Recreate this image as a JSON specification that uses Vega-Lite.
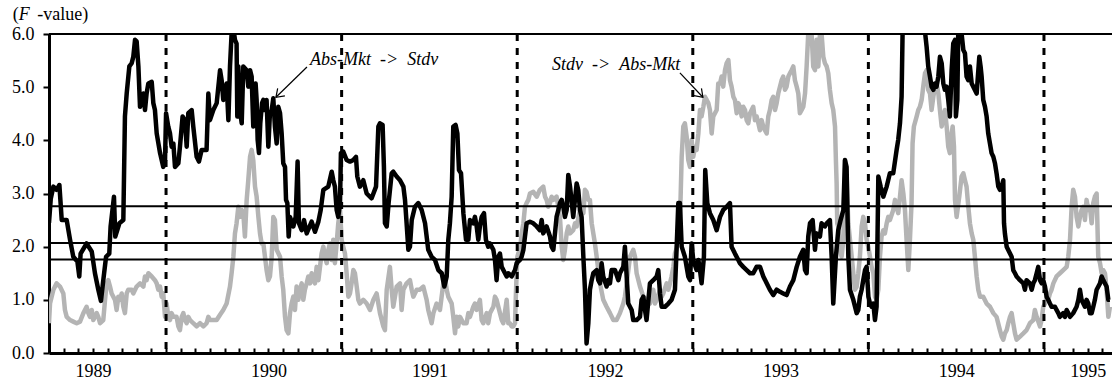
{
"$schema":"https://vega.github.io/schema/vega-lite/v6.json",
"width":1063,"height":319,
"autosize":{"type":"none"},
"padding":{"left":49,"top":34,"right":0,"bottom":28},
"background":"white",
"config":{"view":{"stroke":null},"font":"Liberation Serif"},
"datasets":{
"black":[{"m":4.0,"v":2.45},{"m":4.12,"v":2.9},{"m":4.3,"v":3.13},{"m":4.52,"v":3.07},{"m":4.71,"v":3.16},{"m":4.87,"v":2.5},{"m":5.21,"v":2.5},{"m":5.44,"v":2.13},{"m":5.66,"v":1.81},{"m":5.94,"v":1.72},{"m":6.07,"v":1.44},{"m":6.16,"v":1.87},{"m":6.57,"v":2.06},{"m":6.92,"v":1.91},{"m":7.14,"v":1.5},{"m":7.37,"v":1.19},{"m":7.55,"v":0.98},{"m":7.71,"v":1.37},{"m":7.9,"v":1.81},{"m":8.12,"v":1.87},{"m":8.21,"v":2.38},{"m":8.44,"v":2.94},{"m":8.53,"v":2.19},{"m":8.81,"v":2.44},{"m":9.08,"v":2.5},{"m":9.19,"v":4.45},{"m":9.31,"v":4.88},{"m":9.49,"v":5.39},{"m":9.65,"v":5.45},{"m":9.76,"v":5.57},{"m":9.88,"v":5.89},{"m":9.99,"v":5.86},{"m":10.11,"v":5.39},{"m":10.22,"v":4.63},{"m":10.45,"v":4.88},{"m":10.56,"v":4.57},{"m":10.67,"v":4.88},{"m":10.79,"v":5.07},{"m":11.02,"v":5.1},{"m":11.13,"v":4.7},{"m":11.24,"v":4.57},{"m":11.36,"v":4.13},{"m":11.59,"v":3.76},{"m":11.81,"v":3.5},{"m":11.93,"v":3.63},{"m":12.0,"v":4.51},{"m":12.15,"v":4.26},{"m":12.27,"v":4.13},{"m":12.38,"v":3.88},{"m":12.5,"v":3.94},{"m":12.61,"v":3.5},{"m":12.84,"v":3.57},{"m":12.95,"v":3.88},{"m":13.13,"v":4.45},{"m":13.29,"v":4.38},{"m":13.41,"v":3.88},{"m":13.52,"v":4.51},{"m":13.75,"v":4.57},{"m":13.86,"v":4.26},{"m":14.09,"v":3.69},{"m":14.25,"v":3.6},{"m":14.43,"v":3.82},{"m":14.77,"v":3.82},{"m":14.89,"v":4.88},{"m":15.0,"v":4.38},{"m":15.23,"v":4.57},{"m":15.46,"v":4.7},{"m":15.69,"v":5.32},{"m":15.8,"v":5.13},{"m":15.91,"v":4.76},{"m":16.14,"v":5.07},{"m":16.26,"v":4.38},{"m":16.37,"v":5.39},{"m":16.48,"v":6.01},{"m":16.6,"v":6.11},{"m":16.71,"v":5.89},{"m":16.82,"v":5.82},{"m":16.87,"v":4.45},{"m":16.94,"v":5.39},{"m":17.05,"v":4.57},{"m":17.17,"v":4.32},{"m":17.28,"v":5.39},{"m":17.51,"v":5.32},{"m":17.62,"v":5.01},{"m":17.74,"v":5.32},{"m":17.85,"v":5.2},{"m":17.96,"v":4.26},{"m":18.12,"v":5.07},{"m":18.19,"v":4.76},{"m":18.26,"v":4.01},{"m":18.35,"v":3.76},{"m":18.44,"v":4.32},{"m":18.56,"v":4.7},{"m":18.65,"v":4.76},{"m":18.76,"v":4.57},{"m":18.87,"v":4.76},{"m":18.99,"v":3.88},{"m":19.1,"v":4.51},{"m":19.22,"v":4.57},{"m":19.33,"v":4.79},{"m":19.44,"v":4.26},{"m":19.56,"v":3.94},{"m":19.67,"v":4.63},{"m":19.79,"v":4.51},{"m":19.9,"v":4.13},{"m":20.01,"v":3.57},{"m":20.13,"v":3.5},{"m":20.2,"v":2.88},{"m":20.29,"v":2.82},{"m":20.38,"v":2.19},{"m":20.47,"v":2.56},{"m":20.7,"v":2.38},{"m":20.86,"v":2.56},{"m":20.99,"v":3.6},{"m":21.08,"v":2.44},{"m":21.27,"v":2.31},{"m":21.43,"v":2.5},{"m":21.61,"v":2.25},{"m":21.95,"v":2.47},{"m":22.18,"v":2.28},{"m":22.41,"v":2.47},{"m":22.57,"v":2.69},{"m":22.75,"v":3.07},{"m":23.09,"v":3.13},{"m":23.32,"v":3.41},{"m":23.43,"v":3.25},{"m":23.54,"v":3.13},{"m":23.66,"v":2.69},{"m":23.77,"v":2.56},{"m":23.89,"v":2.82},{"m":23.95,"v":3.76},{"m":24.11,"v":3.79},{"m":24.34,"v":3.63},{"m":24.57,"v":3.6},{"m":24.8,"v":3.63},{"m":24.98,"v":3.69},{"m":25.07,"v":3.32},{"m":25.25,"v":3.13},{"m":25.48,"v":3.25},{"m":25.71,"v":3.0},{"m":26.05,"v":2.91},{"m":26.35,"v":3.13},{"m":26.51,"v":4.26},{"m":26.62,"v":4.32},{"m":26.8,"v":4.29},{"m":26.89,"v":3.5},{"m":26.96,"v":2.44},{"m":27.08,"v":2.38},{"m":27.21,"v":2.82},{"m":27.42,"v":3.38},{"m":27.53,"v":3.41},{"m":27.76,"v":3.32},{"m":27.99,"v":3.25},{"m":28.22,"v":3.13},{"m":28.33,"v":2.88},{"m":28.44,"v":2.44},{"m":28.56,"v":1.94},{"m":28.67,"v":2.0},{"m":28.79,"v":2.5},{"m":29.01,"v":2.75},{"m":29.24,"v":2.82},{"m":29.47,"v":2.69},{"m":29.7,"v":2.44},{"m":29.92,"v":1.94},{"m":30.15,"v":1.81},{"m":30.38,"v":1.75},{"m":30.61,"v":1.56},{"m":30.84,"v":1.5},{"m":31.02,"v":1.25},{"m":31.18,"v":1.44},{"m":31.29,"v":2.13},{"m":31.4,"v":2.44},{"m":31.52,"v":2.94},{"m":31.63,"v":4.26},{"m":31.79,"v":4.29},{"m":31.91,"v":4.13},{"m":32.02,"v":3.44},{"m":32.16,"v":3.38},{"m":32.32,"v":2.63},{"m":32.5,"v":2.13},{"m":32.66,"v":2.13},{"m":32.77,"v":2.5},{"m":33.0,"v":2.44},{"m":33.11,"v":2.56},{"m":33.23,"v":2.38},{"m":33.34,"v":2.13},{"m":33.45,"v":2.38},{"m":33.57,"v":2.56},{"m":33.73,"v":2.63},{"m":33.86,"v":2.13},{"m":34.02,"v":2.0},{"m":34.14,"v":2.06},{"m":34.37,"v":1.94},{"m":34.48,"v":1.75},{"m":34.59,"v":1.37},{"m":34.71,"v":1.81},{"m":34.82,"v":1.87},{"m":34.94,"v":1.62},{"m":35.05,"v":1.56},{"m":35.28,"v":1.44},{"m":35.39,"v":1.5},{"m":35.62,"v":1.44},{"m":35.85,"v":1.56},{"m":35.96,"v":1.69},{"m":36.19,"v":1.75},{"m":36.3,"v":1.81},{"m":36.42,"v":1.94},{"m":36.64,"v":2.44},{"m":36.87,"v":2.47},{"m":37.1,"v":2.44},{"m":37.33,"v":2.38},{"m":37.55,"v":2.31},{"m":37.67,"v":2.5},{"m":37.78,"v":2.25},{"m":38.01,"v":2.38},{"m":38.24,"v":2.19},{"m":38.35,"v":2.0},{"m":38.47,"v":1.94},{"m":38.58,"v":2.25},{"m":38.69,"v":2.56},{"m":38.81,"v":2.69},{"m":38.92,"v":2.82},{"m":39.04,"v":2.88},{"m":39.15,"v":2.75},{"m":39.26,"v":2.56},{"m":39.38,"v":2.69},{"m":39.49,"v":3.35},{"m":39.61,"v":3.13},{"m":39.83,"v":2.56},{"m":40.06,"v":3.19},{"m":40.17,"v":3.07},{"m":40.29,"v":2.69},{"m":40.4,"v":2.56},{"m":40.52,"v":1.81},{"m":40.63,"v":1.19},{"m":40.74,"v":0.18},{"m":40.86,"v":0.56},{"m":40.97,"v":1.19},{"m":41.09,"v":1.37},{"m":41.2,"v":1.5},{"m":41.43,"v":1.56},{"m":41.54,"v":1.37},{"m":41.66,"v":1.31},{"m":41.77,"v":1.69},{"m":41.88,"v":1.44},{"m":42.11,"v":1.25},{"m":42.22,"v":1.37},{"m":42.34,"v":1.31},{"m":42.45,"v":1.56},{"m":42.68,"v":1.56},{"m":42.91,"v":1.37},{"m":43.02,"v":1.5},{"m":43.25,"v":1.62},{"m":43.36,"v":2.0},{"m":43.48,"v":1.44},{"m":43.59,"v":0.93},{"m":43.82,"v":0.81},{"m":43.93,"v":0.62},{"m":44.16,"v":0.62},{"m":44.39,"v":0.68},{"m":44.5,"v":1.0},{"m":44.62,"v":1.06},{"m":44.73,"v":0.81},{"m":44.84,"v":0.62},{"m":45.07,"v":1.31},{"m":45.3,"v":1.37},{"m":45.53,"v":1.44},{"m":45.64,"v":1.56},{"m":45.76,"v":1.12},{"m":45.87,"v":0.87},{"m":46.1,"v":0.87},{"m":46.33,"v":0.93},{"m":46.55,"v":1.0},{"m":46.78,"v":1.19},{"m":46.89,"v":1.94},{"m":47.01,"v":2.82},{"m":47.12,"v":2.82},{"m":47.24,"v":2.0},{"m":47.46,"v":1.81},{"m":47.69,"v":1.44},{"m":47.81,"v":1.37},{"m":47.92,"v":2.06},{"m":48.03,"v":1.75},{"m":48.26,"v":1.56},{"m":48.38,"v":1.75},{"m":48.49,"v":1.56},{"m":48.6,"v":1.31},{"m":48.76,"v":1.81},{"m":48.85,"v":3.44},{"m":48.99,"v":2.82},{"m":49.17,"v":2.63},{"m":49.4,"v":2.5},{"m":49.63,"v":2.31},{"m":49.86,"v":2.56},{"m":50.08,"v":2.69},{"m":50.31,"v":2.75},{"m":50.54,"v":2.82},{"m":50.65,"v":2.0},{"m":50.88,"v":1.87},{"m":51.11,"v":1.75},{"m":51.22,"v":1.69},{"m":51.45,"v":1.62},{"m":51.68,"v":1.56},{"m":51.91,"v":1.5},{"m":52.13,"v":1.5},{"m":52.36,"v":1.62},{"m":52.59,"v":1.62},{"m":52.82,"v":1.44},{"m":53.05,"v":1.31},{"m":53.27,"v":1.19},{"m":53.5,"v":1.09},{"m":53.73,"v":1.19},{"m":53.96,"v":1.15},{"m":54.18,"v":1.12},{"m":54.41,"v":1.09},{"m":54.64,"v":1.25},{"m":54.87,"v":1.37},{"m":55.1,"v":1.62},{"m":55.32,"v":1.81},{"m":55.55,"v":1.94},{"m":55.67,"v":1.56},{"m":55.78,"v":1.5},{"m":55.89,"v":2.19},{"m":56.01,"v":2.44},{"m":56.19,"v":2.5},{"m":56.35,"v":1.94},{"m":56.46,"v":2.25},{"m":56.69,"v":2.19},{"m":56.8,"v":2.44},{"m":57.03,"v":2.38},{"m":57.15,"v":2.44},{"m":57.37,"v":2.5},{"m":57.49,"v":1.81},{"m":57.6,"v":0.93},{"m":57.78,"v":1.81},{"m":57.94,"v":2.31},{"m":58.1,"v":2.5},{"m":58.29,"v":2.69},{"m":58.4,"v":3.63},{"m":58.51,"v":3.5},{"m":58.63,"v":1.81},{"m":58.74,"v":1.19},{"m":58.97,"v":1.0},{"m":59.2,"v":0.75},{"m":59.31,"v":0.81},{"m":59.42,"v":1.06},{"m":59.54,"v":1.19},{"m":59.65,"v":1.37},{"m":59.77,"v":1.56},{"m":59.88,"v":1.62},{"m":60.0,"v":1.06},{"m":60.11,"v":0.93},{"m":60.22,"v":0.87},{"m":60.34,"v":0.93},{"m":60.45,"v":0.62},{"m":60.56,"v":0.87},{"m":60.68,"v":3.32},{"m":60.84,"v":3.13},{"m":61.02,"v":2.94},{"m":61.25,"v":3.13},{"m":61.47,"v":3.38},{"m":61.7,"v":3.38},{"m":61.93,"v":3.82},{"m":62.04,"v":4.01},{"m":62.16,"v":4.32},{"m":62.27,"v":4.82},{"m":62.34,"v":6.07},{"m":62.61,"v":7.0},{"m":63.3,"v":7.5},{"m":63.75,"v":6.8},{"m":63.87,"v":6.04},{"m":63.98,"v":5.76},{"m":64.09,"v":5.39},{"m":64.21,"v":5.2},{"m":64.32,"v":5.01},{"m":64.44,"v":4.95},{"m":64.55,"v":5.07},{"m":64.66,"v":5.01},{"m":64.78,"v":5.2},{"m":64.89,"v":5.57},{"m":65.01,"v":5.45},{"m":65.12,"v":5.07},{"m":65.23,"v":4.95},{"m":65.35,"v":5.01},{"m":65.46,"v":4.76},{"m":65.57,"v":4.45},{"m":65.69,"v":5.32},{"m":65.8,"v":5.82},{"m":65.92,"v":5.89},{"m":65.98,"v":4.45},{"m":66.08,"v":4.76},{"m":66.14,"v":6.01},{"m":66.26,"v":6.11},{"m":66.37,"v":6.01},{"m":66.49,"v":5.7},{"m":66.6,"v":5.64},{"m":66.71,"v":5.2},{"m":66.83,"v":5.13},{"m":66.94,"v":5.39},{"m":67.06,"v":5.07},{"m":67.17,"v":5.01},{"m":67.4,"v":4.88},{"m":67.58,"v":5.57},{"m":67.67,"v":5.39},{"m":67.74,"v":5.2},{"m":67.85,"v":4.76},{"m":67.97,"v":4.63},{"m":68.08,"v":4.45},{"m":68.19,"v":4.13},{"m":68.31,"v":3.94},{"m":68.42,"v":3.76},{"m":68.54,"v":3.69},{"m":68.65,"v":3.57},{"m":68.76,"v":3.38},{"m":68.88,"v":3.13},{"m":68.99,"v":3.07},{"m":69.11,"v":3.13},{"m":69.22,"v":3.25},{"m":69.27,"v":2.44},{"m":69.33,"v":2.25},{"m":69.45,"v":2.0},{"m":69.68,"v":1.87},{"m":69.79,"v":1.81},{"m":69.9,"v":1.56},{"m":70.02,"v":1.5},{"m":70.13,"v":1.44},{"m":70.36,"v":1.37},{"m":70.59,"v":1.31},{"m":70.7,"v":1.19},{"m":70.81,"v":1.37},{"m":71.04,"v":1.31},{"m":71.16,"v":1.19},{"m":71.27,"v":1.31},{"m":71.38,"v":1.37},{"m":71.5,"v":1.5},{"m":71.61,"v":1.62},{"m":71.73,"v":1.37},{"m":71.84,"v":1.31},{"m":71.95,"v":1.37},{"m":72.07,"v":1.25},{"m":72.18,"v":1.06},{"m":72.29,"v":1.0},{"m":72.41,"v":0.93},{"m":72.52,"v":0.87},{"m":72.75,"v":0.87},{"m":72.86,"v":0.81},{"m":72.98,"v":0.75},{"m":73.09,"v":0.68},{"m":73.32,"v":0.75},{"m":73.43,"v":0.68},{"m":73.55,"v":0.81},{"m":73.66,"v":0.75},{"m":73.78,"v":0.68},{"m":74.0,"v":0.75},{"m":74.23,"v":0.87},{"m":74.35,"v":1.0},{"m":74.46,"v":1.19},{"m":74.57,"v":1.0},{"m":74.69,"v":0.93},{"m":74.8,"v":0.87},{"m":74.91,"v":1.0},{"m":75.03,"v":0.93},{"m":75.14,"v":0.75},{"m":75.26,"v":0.75},{"m":75.37,"v":0.87},{"m":75.48,"v":1.0},{"m":75.6,"v":1.19},{"m":75.83,"v":1.31},{"m":75.94,"v":1.44},{"m":76.05,"v":1.37},{"m":76.28,"v":1.25},{"m":76.4,"v":1.0},{"m":76.51,"v":1.0}],
"gray":[{"m":4.0,"v":0.56},{"m":4.07,"v":0.93},{"m":4.3,"v":1.19},{"m":4.52,"v":1.31},{"m":4.75,"v":1.25},{"m":4.98,"v":1.12},{"m":5.09,"v":0.81},{"m":5.21,"v":0.68},{"m":5.44,"v":0.62},{"m":5.66,"v":0.59},{"m":5.89,"v":0.56},{"m":6.12,"v":0.59},{"m":6.35,"v":0.75},{"m":6.57,"v":0.87},{"m":6.69,"v":0.75},{"m":6.8,"v":0.68},{"m":6.92,"v":0.81},{"m":7.03,"v":0.62},{"m":7.26,"v":0.75},{"m":7.37,"v":0.68},{"m":7.49,"v":0.56},{"m":7.71,"v":0.62},{"m":7.83,"v":1.0},{"m":7.94,"v":1.31},{"m":8.05,"v":1.37},{"m":8.17,"v":1.25},{"m":8.28,"v":1.12},{"m":8.51,"v":1.0},{"m":8.62,"v":0.81},{"m":8.74,"v":1.06},{"m":8.85,"v":1.0},{"m":8.97,"v":1.12},{"m":9.08,"v":0.87},{"m":9.19,"v":0.75},{"m":9.31,"v":1.12},{"m":9.42,"v":1.19},{"m":9.65,"v":1.19},{"m":9.76,"v":1.12},{"m":9.99,"v":1.25},{"m":10.22,"v":1.31},{"m":10.45,"v":1.25},{"m":10.56,"v":1.44},{"m":10.67,"v":1.37},{"m":10.79,"v":1.5},{"m":11.02,"v":1.44},{"m":11.24,"v":1.37},{"m":11.36,"v":1.31},{"m":11.47,"v":1.19},{"m":11.59,"v":1.25},{"m":11.7,"v":1.06},{"m":11.81,"v":1.12},{"m":11.93,"v":0.68},{"m":12.04,"v":0.93},{"m":12.15,"v":0.68},{"m":12.27,"v":0.62},{"m":12.38,"v":0.75},{"m":12.5,"v":0.68},{"m":12.72,"v":0.68},{"m":12.84,"v":0.5},{"m":12.95,"v":0.43},{"m":13.07,"v":0.68},{"m":13.18,"v":0.75},{"m":13.29,"v":0.62},{"m":13.41,"v":0.56},{"m":13.52,"v":0.68},{"m":13.64,"v":0.62},{"m":13.86,"v":0.56},{"m":14.09,"v":0.5},{"m":14.32,"v":0.56},{"m":14.55,"v":0.5},{"m":14.77,"v":0.56},{"m":14.89,"v":0.68},{"m":15.0,"v":0.62},{"m":15.23,"v":0.62},{"m":15.46,"v":0.62},{"m":15.69,"v":0.72},{"m":15.91,"v":0.81},{"m":16.14,"v":0.93},{"m":16.37,"v":1.25},{"m":16.48,"v":1.5},{"m":16.6,"v":1.81},{"m":16.71,"v":2.25},{"m":16.82,"v":2.44},{"m":16.94,"v":2.75},{"m":17.05,"v":2.56},{"m":17.17,"v":2.69},{"m":17.28,"v":2.63},{"m":17.39,"v":2.19},{"m":17.51,"v":2.88},{"m":17.62,"v":3.25},{"m":17.74,"v":3.69},{"m":17.85,"v":3.82},{"m":17.96,"v":3.63},{"m":18.08,"v":3.13},{"m":18.19,"v":2.94},{"m":18.31,"v":2.56},{"m":18.42,"v":2.25},{"m":18.53,"v":2.06},{"m":18.65,"v":2.06},{"m":18.76,"v":1.81},{"m":18.87,"v":1.56},{"m":18.99,"v":1.37},{"m":19.1,"v":1.44},{"m":19.22,"v":1.81},{"m":19.33,"v":2.56},{"m":19.44,"v":2.5},{"m":19.56,"v":1.94},{"m":19.79,"v":1.81},{"m":19.9,"v":1.44},{"m":20.01,"v":1.19},{"m":20.13,"v":0.68},{"m":20.24,"v":0.43},{"m":20.36,"v":0.37},{"m":20.47,"v":0.75},{"m":20.58,"v":0.93},{"m":20.7,"v":1.06},{"m":20.81,"v":0.81},{"m":20.92,"v":1.25},{"m":21.04,"v":1.0},{"m":21.15,"v":1.19},{"m":21.27,"v":1.31},{"m":21.38,"v":1.0},{"m":21.49,"v":1.19},{"m":21.61,"v":1.31},{"m":21.72,"v":1.44},{"m":21.84,"v":1.31},{"m":21.95,"v":1.5},{"m":22.06,"v":1.37},{"m":22.18,"v":1.31},{"m":22.29,"v":1.62},{"m":22.41,"v":1.37},{"m":22.52,"v":1.62},{"m":22.63,"v":1.87},{"m":22.75,"v":2.0},{"m":22.86,"v":1.81},{"m":22.98,"v":1.69},{"m":23.09,"v":1.94},{"m":23.2,"v":2.06},{"m":23.32,"v":1.75},{"m":23.43,"v":2.13},{"m":23.54,"v":1.69},{"m":23.66,"v":2.06},{"m":23.77,"v":2.44},{"m":23.89,"v":2.69},{"m":24.0,"v":2.13},{"m":24.11,"v":2.0},{"m":24.23,"v":1.87},{"m":24.34,"v":1.5},{"m":24.46,"v":1.06},{"m":24.57,"v":1.12},{"m":24.68,"v":1.31},{"m":24.8,"v":1.56},{"m":24.91,"v":1.5},{"m":25.03,"v":1.25},{"m":25.14,"v":1.0},{"m":25.25,"v":0.93},{"m":25.48,"v":1.0},{"m":25.71,"v":0.93},{"m":25.94,"v":0.81},{"m":26.17,"v":1.0},{"m":26.39,"v":1.12},{"m":26.62,"v":0.75},{"m":26.85,"v":0.5},{"m":26.96,"v":0.43},{"m":27.08,"v":1.19},{"m":27.3,"v":1.62},{"m":27.42,"v":1.19},{"m":27.53,"v":0.87},{"m":27.76,"v":1.25},{"m":27.99,"v":1.31},{"m":28.1,"v":0.81},{"m":28.22,"v":1.19},{"m":28.44,"v":1.31},{"m":28.67,"v":1.37},{"m":28.79,"v":1.19},{"m":28.9,"v":1.06},{"m":29.13,"v":1.19},{"m":29.35,"v":1.19},{"m":29.58,"v":1.25},{"m":29.81,"v":1.0},{"m":29.92,"v":0.81},{"m":30.15,"v":0.56},{"m":30.27,"v":0.75},{"m":30.49,"v":0.93},{"m":30.72,"v":0.81},{"m":30.95,"v":1.31},{"m":31.06,"v":1.44},{"m":31.18,"v":1.19},{"m":31.29,"v":1.06},{"m":31.52,"v":0.93},{"m":31.63,"v":0.68},{"m":31.75,"v":0.37},{"m":31.86,"v":0.68},{"m":31.97,"v":0.5},{"m":32.09,"v":0.68},{"m":32.32,"v":0.56},{"m":32.54,"v":0.56},{"m":32.66,"v":0.75},{"m":32.77,"v":0.68},{"m":33.0,"v":0.87},{"m":33.11,"v":0.93},{"m":33.23,"v":0.81},{"m":33.45,"v":1.0},{"m":33.57,"v":0.62},{"m":33.68,"v":0.56},{"m":33.91,"v":0.75},{"m":34.02,"v":0.56},{"m":34.14,"v":0.75},{"m":34.37,"v":0.87},{"m":34.48,"v":1.06},{"m":34.59,"v":1.0},{"m":34.82,"v":0.75},{"m":34.94,"v":0.62},{"m":35.05,"v":0.56},{"m":35.28,"v":1.0},{"m":35.39,"v":0.56},{"m":35.5,"v":0.56},{"m":35.62,"v":0.5},{"m":35.73,"v":0.5},{"m":35.85,"v":0.56},{"m":35.92,"v":1.19},{"m":36.01,"v":1.81},{"m":36.07,"v":1.87},{"m":36.19,"v":1.94},{"m":36.3,"v":2.25},{"m":36.42,"v":2.44},{"m":36.53,"v":2.75},{"m":36.64,"v":2.82},{"m":36.76,"v":2.88},{"m":36.87,"v":3.0},{"m":37.1,"v":3.03},{"m":37.33,"v":2.94},{"m":37.55,"v":3.07},{"m":37.78,"v":3.13},{"m":37.9,"v":2.94},{"m":38.01,"v":2.88},{"m":38.12,"v":2.75},{"m":38.24,"v":2.82},{"m":38.35,"v":2.94},{"m":38.47,"v":2.88},{"m":38.69,"v":2.94},{"m":38.92,"v":2.56},{"m":39.04,"v":2.0},{"m":39.15,"v":1.75},{"m":39.26,"v":1.94},{"m":39.38,"v":2.25},{"m":39.49,"v":2.38},{"m":39.61,"v":2.25},{"m":39.83,"v":2.31},{"m":39.95,"v":2.44},{"m":40.06,"v":2.38},{"m":40.29,"v":2.69},{"m":40.52,"v":2.63},{"m":40.63,"v":3.07},{"m":40.74,"v":3.03},{"m":40.86,"v":2.88},{"m":40.97,"v":2.88},{"m":41.09,"v":2.44},{"m":41.2,"v":2.25},{"m":41.31,"v":2.06},{"m":41.43,"v":1.81},{"m":41.54,"v":1.56},{"m":41.66,"v":1.31},{"m":41.88,"v":1.0},{"m":42.11,"v":0.87},{"m":42.34,"v":0.75},{"m":42.57,"v":0.62},{"m":42.79,"v":0.62},{"m":43.02,"v":0.75},{"m":43.25,"v":0.93},{"m":43.36,"v":1.06},{"m":43.48,"v":1.31},{"m":43.71,"v":1.81},{"m":43.93,"v":1.94},{"m":44.05,"v":1.81},{"m":44.16,"v":1.5},{"m":44.39,"v":1.25},{"m":44.62,"v":1.06},{"m":44.84,"v":1.0},{"m":45.07,"v":0.93},{"m":45.19,"v":1.12},{"m":45.3,"v":1.19},{"m":45.41,"v":0.93},{"m":45.53,"v":1.0},{"m":45.76,"v":1.19},{"m":45.87,"v":1.06},{"m":45.98,"v":1.12},{"m":46.21,"v":1.31},{"m":46.33,"v":1.19},{"m":46.44,"v":1.31},{"m":46.55,"v":1.44},{"m":46.67,"v":1.62},{"m":46.78,"v":1.87},{"m":46.9,"v":1.97},{"m":47.01,"v":2.13},{"m":47.12,"v":2.44},{"m":47.24,"v":3.69},{"m":47.35,"v":4.26},{"m":47.46,"v":4.32},{"m":47.58,"v":4.07},{"m":47.69,"v":3.63},{"m":47.81,"v":3.5},{"m":47.92,"v":4.01},{"m":48.03,"v":3.69},{"m":48.15,"v":3.88},{"m":48.26,"v":3.82},{"m":48.38,"v":4.13},{"m":48.49,"v":4.57},{"m":48.6,"v":4.45},{"m":48.72,"v":4.63},{"m":48.83,"v":4.82},{"m":48.95,"v":4.76},{"m":49.06,"v":4.7},{"m":49.17,"v":4.57},{"m":49.29,"v":4.13},{"m":49.4,"v":4.45},{"m":49.63,"v":4.57},{"m":49.74,"v":5.07},{"m":49.86,"v":5.07},{"m":49.97,"v":5.2},{"m":50.08,"v":5.01},{"m":50.2,"v":5.32},{"m":50.31,"v":5.45},{"m":50.43,"v":5.51},{"m":50.54,"v":5.13},{"m":50.65,"v":5.01},{"m":50.77,"v":4.82},{"m":50.88,"v":4.76},{"m":51.0,"v":4.51},{"m":51.11,"v":4.7},{"m":51.22,"v":4.63},{"m":51.34,"v":4.45},{"m":51.45,"v":4.63},{"m":51.57,"v":4.57},{"m":51.68,"v":4.38},{"m":51.79,"v":4.32},{"m":51.91,"v":4.51},{"m":52.02,"v":4.57},{"m":52.13,"v":4.63},{"m":52.25,"v":4.38},{"m":52.36,"v":4.45},{"m":52.48,"v":4.32},{"m":52.59,"v":4.19},{"m":52.7,"v":4.38},{"m":52.82,"v":4.26},{"m":52.93,"v":4.19},{"m":53.05,"v":4.13},{"m":53.16,"v":4.45},{"m":53.27,"v":4.57},{"m":53.39,"v":4.76},{"m":53.5,"v":4.82},{"m":53.62,"v":4.57},{"m":53.73,"v":4.7},{"m":53.84,"v":4.88},{"m":53.96,"v":5.01},{"m":54.07,"v":5.13},{"m":54.18,"v":5.2},{"m":54.3,"v":4.95},{"m":54.41,"v":5.01},{"m":54.53,"v":5.2},{"m":54.64,"v":5.26},{"m":54.75,"v":5.32},{"m":54.87,"v":5.39},{"m":54.98,"v":5.13},{"m":55.1,"v":5.01},{"m":55.21,"v":4.88},{"m":55.32,"v":4.51},{"m":55.44,"v":4.57},{"m":55.55,"v":4.63},{"m":55.67,"v":4.88},{"m":55.78,"v":5.39},{"m":55.89,"v":6.01},{"m":56.01,"v":6.04},{"m":56.12,"v":6.01},{"m":56.23,"v":5.39},{"m":56.35,"v":5.32},{"m":56.46,"v":5.89},{"m":56.58,"v":5.39},{"m":56.69,"v":6.01},{"m":56.8,"v":6.01},{"m":56.92,"v":5.57},{"m":57.03,"v":5.45},{"m":57.15,"v":5.39},{"m":57.26,"v":5.26},{"m":57.37,"v":4.95},{"m":57.49,"v":4.7},{"m":57.6,"v":4.57},{"m":57.72,"v":4.26},{"m":57.78,"v":3.63},{"m":57.83,"v":3.19},{"m":57.87,"v":2.44},{"m":57.94,"v":2.38},{"m":58.06,"v":1.94},{"m":58.17,"v":1.81},{"m":58.29,"v":2.13},{"m":58.4,"v":3.63},{"m":58.51,"v":3.32},{"m":58.63,"v":2.44},{"m":58.74,"v":2.13},{"m":58.86,"v":1.81},{"m":58.97,"v":1.5},{"m":59.08,"v":1.19},{"m":59.2,"v":1.25},{"m":59.31,"v":1.5},{"m":59.42,"v":1.81},{"m":59.54,"v":2.38},{"m":59.65,"v":2.56},{"m":59.77,"v":2.44},{"m":59.88,"v":2.13},{"m":59.99,"v":2.0},{"m":60.11,"v":1.81},{"m":60.22,"v":1.62},{"m":60.34,"v":1.5},{"m":60.45,"v":1.06},{"m":60.56,"v":1.0},{"m":60.68,"v":1.19},{"m":60.79,"v":1.81},{"m":60.9,"v":2.19},{"m":61.02,"v":2.31},{"m":61.13,"v":2.25},{"m":61.25,"v":2.44},{"m":61.36,"v":2.56},{"m":61.47,"v":2.5},{"m":61.7,"v":2.69},{"m":61.82,"v":2.88},{"m":61.93,"v":2.75},{"m":62.04,"v":2.63},{"m":62.16,"v":2.94},{"m":62.27,"v":3.25},{"m":62.39,"v":3.0},{"m":62.5,"v":2.69},{"m":62.61,"v":2.13},{"m":62.73,"v":1.56},{"m":62.84,"v":2.13},{"m":62.95,"v":2.82},{"m":63.02,"v":3.94},{"m":63.11,"v":4.26},{"m":63.3,"v":4.45},{"m":63.41,"v":4.57},{"m":63.52,"v":4.63},{"m":63.64,"v":4.76},{"m":63.75,"v":5.01},{"m":63.87,"v":5.26},{"m":63.98,"v":5.32},{"m":64.09,"v":4.95},{"m":64.21,"v":4.88},{"m":64.32,"v":4.57},{"m":64.44,"v":4.82},{"m":64.55,"v":5.01},{"m":64.66,"v":5.07},{"m":64.78,"v":4.88},{"m":64.89,"v":4.57},{"m":65.01,"v":4.26},{"m":65.12,"v":4.45},{"m":65.23,"v":4.57},{"m":65.35,"v":4.26},{"m":65.46,"v":3.88},{"m":65.57,"v":3.76},{"m":65.69,"v":4.13},{"m":65.76,"v":4.26},{"m":65.85,"v":3.88},{"m":65.92,"v":2.88},{"m":66.03,"v":2.56},{"m":66.21,"v":2.94},{"m":66.37,"v":3.32},{"m":66.49,"v":3.38},{"m":66.6,"v":3.25},{"m":66.71,"v":3.13},{"m":66.83,"v":2.75},{"m":66.94,"v":2.44},{"m":67.06,"v":2.25},{"m":67.17,"v":2.13},{"m":67.28,"v":1.81},{"m":67.4,"v":1.44},{"m":67.51,"v":1.19},{"m":67.63,"v":1.06},{"m":67.85,"v":1.06},{"m":68.08,"v":0.93},{"m":68.31,"v":0.87},{"m":68.54,"v":0.75},{"m":68.76,"v":0.68},{"m":68.99,"v":0.43},{"m":69.11,"v":0.31},{"m":69.22,"v":0.25},{"m":69.33,"v":0.37},{"m":69.45,"v":0.43},{"m":69.56,"v":0.56},{"m":69.68,"v":0.68},{"m":69.79,"v":0.75},{"m":69.9,"v":0.56},{"m":70.02,"v":0.37},{"m":70.13,"v":0.25},{"m":70.36,"v":0.31},{"m":70.59,"v":0.37},{"m":70.81,"v":0.43},{"m":71.04,"v":0.56},{"m":71.27,"v":0.62},{"m":71.38,"v":0.81},{"m":71.5,"v":0.68},{"m":71.73,"v":0.5},{"m":71.84,"v":0.62},{"m":71.95,"v":0.87},{"m":72.07,"v":0.93},{"m":72.18,"v":1.06},{"m":72.29,"v":1.0},{"m":72.41,"v":1.12},{"m":72.52,"v":1.19},{"m":72.64,"v":1.31},{"m":72.86,"v":1.44},{"m":73.09,"v":1.5},{"m":73.32,"v":1.56},{"m":73.55,"v":1.62},{"m":73.66,"v":1.81},{"m":73.78,"v":2.13},{"m":73.89,"v":2.75},{"m":74.0,"v":3.07},{"m":74.12,"v":2.94},{"m":74.23,"v":2.56},{"m":74.35,"v":2.38},{"m":74.46,"v":2.56},{"m":74.57,"v":2.69},{"m":74.69,"v":2.75},{"m":74.8,"v":2.5},{"m":74.91,"v":2.88},{"m":75.03,"v":2.69},{"m":75.14,"v":2.75},{"m":75.26,"v":2.44},{"m":75.37,"v":2.82},{"m":75.48,"v":2.94},{"m":75.6,"v":3.0},{"m":75.71,"v":1.81},{"m":75.83,"v":1.69},{"m":75.94,"v":1.5},{"m":76.05,"v":1.56},{"m":76.17,"v":1.5},{"m":76.28,"v":1.19},{"m":76.4,"v":0.68},{"m":76.51,"v":0.87}],
"hlines":[{"v":2.76},{"v":2.07},{"v":1.76},{"v":6.0}],
"vlines":[{"m":12},{"m":24},{"m":36},{"m":48},{"m":60},{"m":72}],
"notes":[{"m":21.84,"v":5.42,"t":"Abs-Mkt\u00a0\u00a0->\u00a0\u00a0Stdv","it":1},{"m":38.38,"v":5.32,"t":"Stdv\u00a0\u00a0->\u00a0\u00a0Abs-Mkt","it":1},{"m":1.52,"v":6.26,"t":"(","it":0},{"m":1.93,"v":6.26,"t":"F","it":1},{"m":3.2,"v":6.26,"t":"-value)","it":0}],
"arrows":[{"id":1,"m":21.63,"v":5.38,"m2":19.51,"v2":4.81},{"id":2,"m":47.12,"v":5.27,"m2":48.69,"v2":4.81}]
},
"layer":[
{"data":{"name":"gray"},
 "mark":{"type":"line","color":"#b4b4b4","strokeWidth":4.5,"strokeJoin":"round","clip":true},
 "encoding":{
  "x":{"field":"m","type":"quantitative","scale":{"domain":[4,76.65],"nice":false,"zero":false},
   "axis":{"title":null,"tickCount":200,"values":[5,6,7,8,9,10,11,12,13,14,15,16,17,18,19,20,21,22,23,24,25,26,27,28,29,30,31,32,33,34,35,36,37,38,39,40,41,42,43,44,45,46,47,48,49,50,51,52,53,54,55,56,57,58,59,60,61,62,63,64,65,66,67,68,69,70,71,72,73,74,75,76],
    "labelExpr":"datum.value==7?'1989':datum.value==19?'1990':datum.value==30?'1991':datum.value==42?'1992':datum.value==54?'1993':datum.value==66?'1994':datum.value==75?'1995':''",
    "tickSize":-5,"tickWidth":2,"tickColor":"black","domainWidth":3,"domainColor":"black","grid":false,
    "labelFont":"Liberation Serif","labelFontSize":18,"labelColor":"black","labelPadding":14,"labelOverlap":false,"labelFlush":false,"labelBound":false}},
  "y":{"field":"v","type":"quantitative","scale":{"domain":[0,6],"nice":false},
   "axis":{"title":null,"tickCount":20,"values":[0,1,2,3,4,5,6],"format":".1f","tickSize":6,"tickWidth":2,"tickColor":"black","domainWidth":3,"domainColor":"black","grid":false,
    "labelFont":"Liberation Serif","labelFontSize":18,"labelColor":"black","labelPadding":9,"labelOverlap":false,"labelFlush":false,"labelBound":false}}
 }},
{"data":{"name":"hlines"},
 "mark":{"type":"rule","color":"black","strokeWidth":2},
 "encoding":{"y":{"field":"v","type":"quantitative","scale":{"domain":[0,6],"nice":false},"axis":{"title":null}}}},
{"data":{"name":"vlines"},
 "mark":{"type":"rule","color":"black","strokeWidth":3,"strokeDash":[7,7]},
 "encoding":{"x":{"field":"m","type":"quantitative","scale":{"domain":[4,76.65],"nice":false,"zero":false},"axis":{"title":null}}}},
{"data":{"name":"black"},
 "mark":{"type":"line","color":"black","strokeWidth":4.5,"strokeJoin":"round","clip":true},
 "encoding":{
  "x":{"field":"m","type":"quantitative","scale":{"domain":[4,76.65],"nice":false,"zero":false},"axis":{"title":null}},
  "y":{"field":"v","type":"quantitative","scale":{"domain":[0,6],"nice":false},"axis":{"title":null}}}},
{"data":{"name":"notes"},
 "transform":[{"filter":"datum.it==1"}],
 "mark":{"type":"text","font":"Liberation Serif","fontSize":18,"fontStyle":"italic","align":"left","baseline":"alphabetic","color":"black"},
 "encoding":{
  "x":{"field":"m","type":"quantitative","scale":{"domain":[4,76.65],"nice":false,"zero":false},"axis":{"title":null}},
  "y":{"field":"v","type":"quantitative","scale":{"domain":[0,6],"nice":false},"axis":{"title":null}},
  "text":{"field":"t"}}},
{"data":{"name":"notes"},
 "transform":[{"filter":"datum.it==0"}],
 "mark":{"type":"text","font":"Liberation Serif","fontSize":18,"align":"left","baseline":"alphabetic","color":"black"},
 "encoding":{
  "x":{"field":"m","type":"quantitative","scale":{"domain":[4,76.65],"nice":false,"zero":false},"axis":{"title":null}},
  "y":{"field":"v","type":"quantitative","scale":{"domain":[0,6],"nice":false},"axis":{"title":null}},
  "text":{"field":"t"}}},
{"data":{"name":"arrows"},
 "mark":{"type":"rule","color":"black","strokeWidth":1.2},
 "encoding":{
  "x":{"field":"m","type":"quantitative","scale":{"domain":[4,76.65],"nice":false,"zero":false},"axis":{"title":null}},
  "y":{"field":"v","type":"quantitative","scale":{"domain":[0,6],"nice":false},"axis":{"title":null}},
  "x2":{"field":"m2"},"y2":{"field":"v2"}}},
{"data":{"name":"arrows"},
 "transform":[{"filter":"datum.id==1"}],
 "mark":{"type":"point","shape":"M-1,-0.7L0,0L-1,0.7","filled":false,"color":"black","strokeWidth":1.2,"size":220,"angle":136,"opacity":1},
 "encoding":{
  "x":{"field":"m2","type":"quantitative","scale":{"domain":[4,76.65],"nice":false,"zero":false},"axis":{"title":null}},
  "y":{"field":"v2","type":"quantitative","scale":{"domain":[0,6],"nice":false},"axis":{"title":null}}}},
{"data":{"name":"arrows"},
 "transform":[{"filter":"datum.id==2"}],
 "mark":{"type":"point","shape":"M-1,-0.7L0,0L-1,0.7","filled":false,"color":"black","strokeWidth":1.2,"size":220,"angle":46,"opacity":1},
 "encoding":{
  "x":{"field":"m2","type":"quantitative","scale":{"domain":[4,76.65],"nice":false,"zero":false},"axis":{"title":null}},
  "y":{"field":"v2","type":"quantitative","scale":{"domain":[0,6],"nice":false},"axis":{"title":null}}}}
]
}
